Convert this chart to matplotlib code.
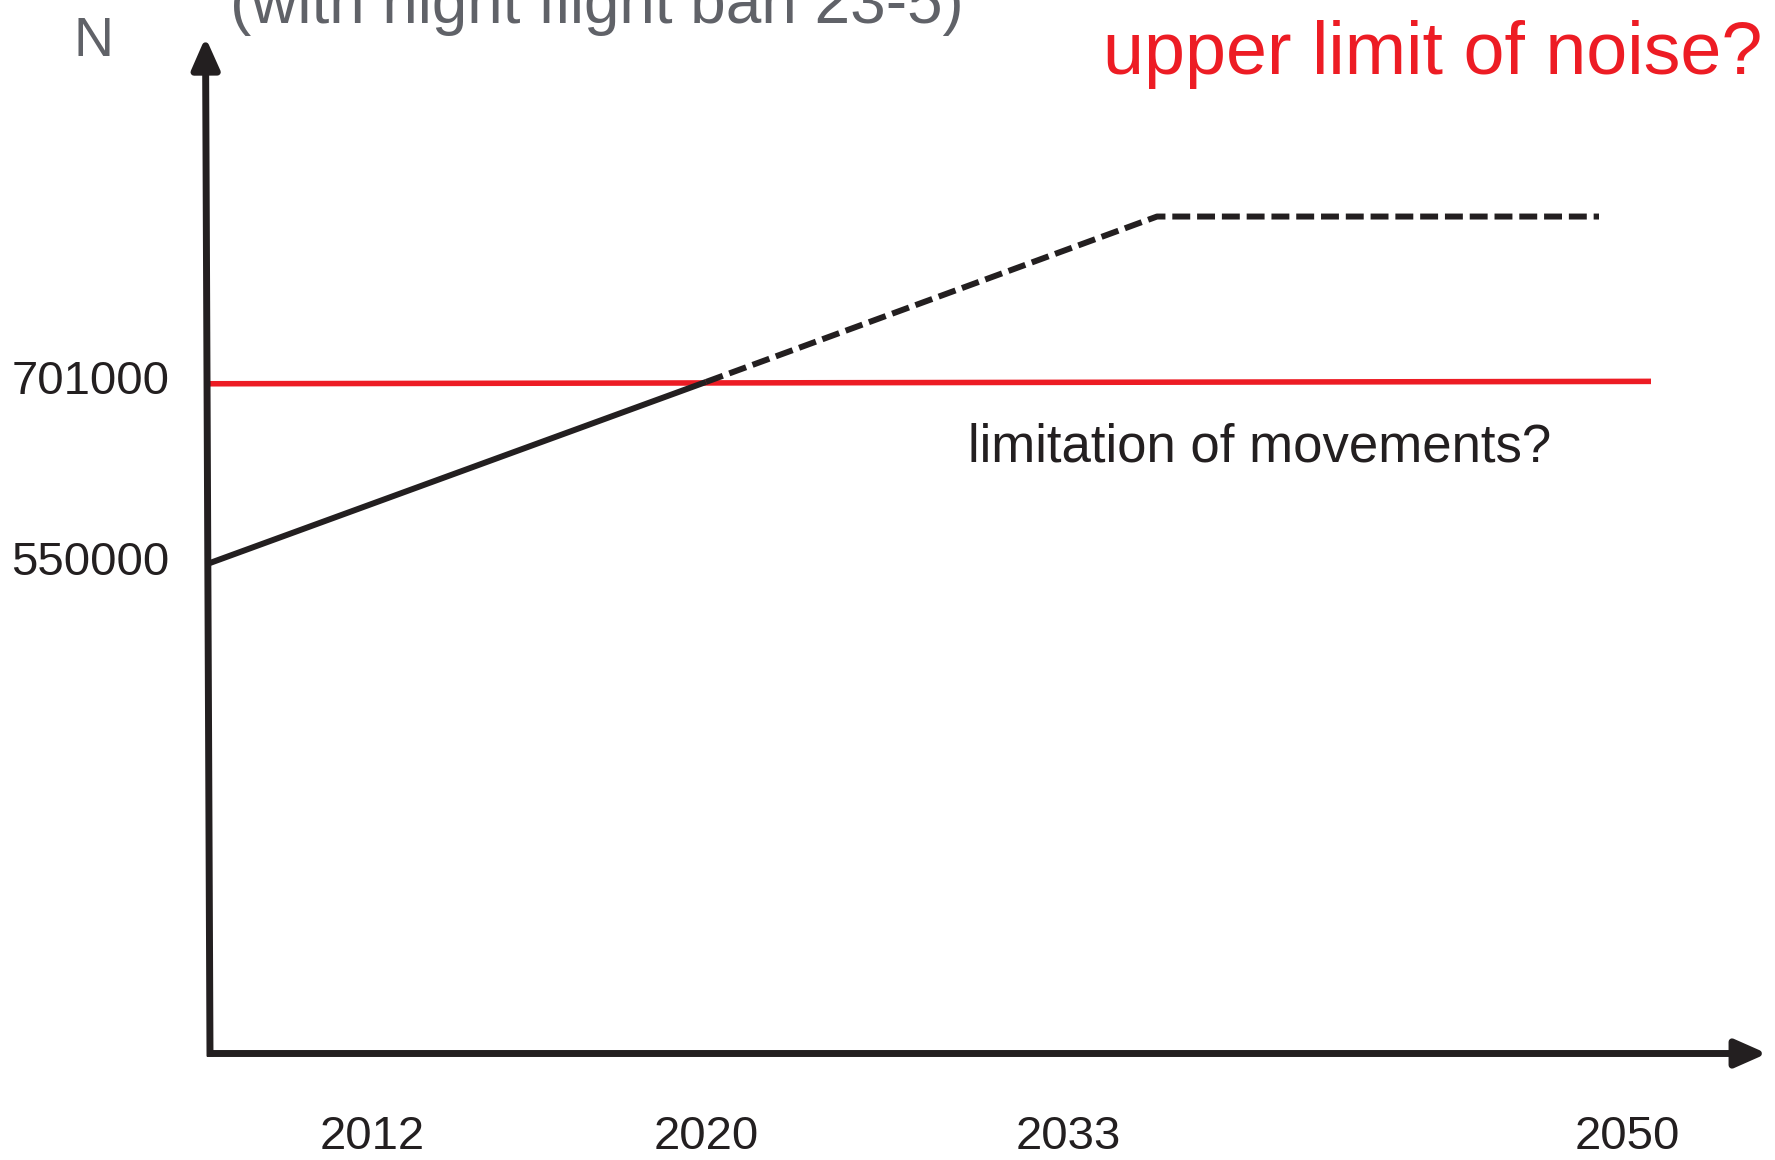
import matplotlib.pyplot as plt
import numpy as np

plt.rcParams['font.family'] = ['Liberation Sans', 'DejaVu Sans']

# schematic x positions (not to scale in years) and values
years = ['2012', '2020', '2033', '2050']
year_pos = [1.62, 4.96, 8.58, 14.17]
y_ticks = [550000, 701000]

# forecast of movements: solid until 2020, dashed afterwards
trend_x = [0.0, 4.96]
trend_y = [550000, 701000]
trend_dash_x = [4.96, 9.47, 13.89]
trend_dash_y = [701000, 839000, 839000]

# limitation of movements
limit_x = [0.0, 14.41]
limit_y = [699500, 701500]

x_end = 15.50
y_min, y_max = 140800, 984600

black = '#231f20'
red = '#ed1c24'
grey = '#606268'

fig = plt.figure(figsize=(17.75, 11.6), dpi=100)
ax = fig.add_axes([210 / 1775, 1 - 1053.5 / 1160, (1760 - 210) / 1775, (1053.5 - 42) / 1160])
ax.set_xlim(0, x_end)
ax.set_ylim(y_min, y_max)
for s in ax.spines.values():
    s.set_visible(False)

ax.plot(limit_x, limit_y, color=red, lw=4.0, solid_capstyle='butt', zorder=2)
ax.plot(trend_x, trend_y, color=black, lw=4.3, solid_capstyle='butt', zorder=3)
ax.plot(trend_dash_x, trend_dash_y, color=black, lw=4.3, dashes=(3.0, 1.15),
        dash_capstyle='butt', zorder=3)

# axes drawn as arrows
arrow = dict(arrowstyle='-|>,head_length=0.95,head_width=0.42', lw=5, color=black,
             mutation_scale=20, shrinkA=0, shrinkB=0, capstyle='butt')
ax.annotate('', xy=(x_end + 0.07, y_min), xytext=(-0.03, y_min), arrowprops=arrow,
            annotation_clip=False)
ax.annotate('', xy=(-0.045, y_max + 4000), xytext=(0.0, y_min - 2500), arrowprops=arrow,
            annotation_clip=False)

ax.set_xticks(year_pos, years)
ax.set_yticks(y_ticks, [str(v) for v in y_ticks])
ax.tick_params(axis='x', length=0, pad=44, labelsize=34, labelcolor=black)
ax.tick_params(axis='y', length=0, pad=29, labelsize=34, labelcolor=black)
for lab in ax.get_yticklabels():
    lab.set_va('center')

fig.text(74 / 1775, 1 - 56 / 1160, 'N', fontsize=40, color=grey, va='baseline')
fig.text(230 / 1775, 1 - 23 / 1160, '(with night flight ban 23-5)', fontsize=46,
         color=grey, va='baseline')
fig.text(1103 / 1775, 1 - 74 / 1160, 'upper limit of noise?', fontsize=53,
         color=red, va='baseline')
fig.text(968 / 1775, 1 - 461 / 1160, 'limitation of movements?', fontsize=38,
         color=black, va='baseline')

fig.savefig('out.png', dpi=100)
